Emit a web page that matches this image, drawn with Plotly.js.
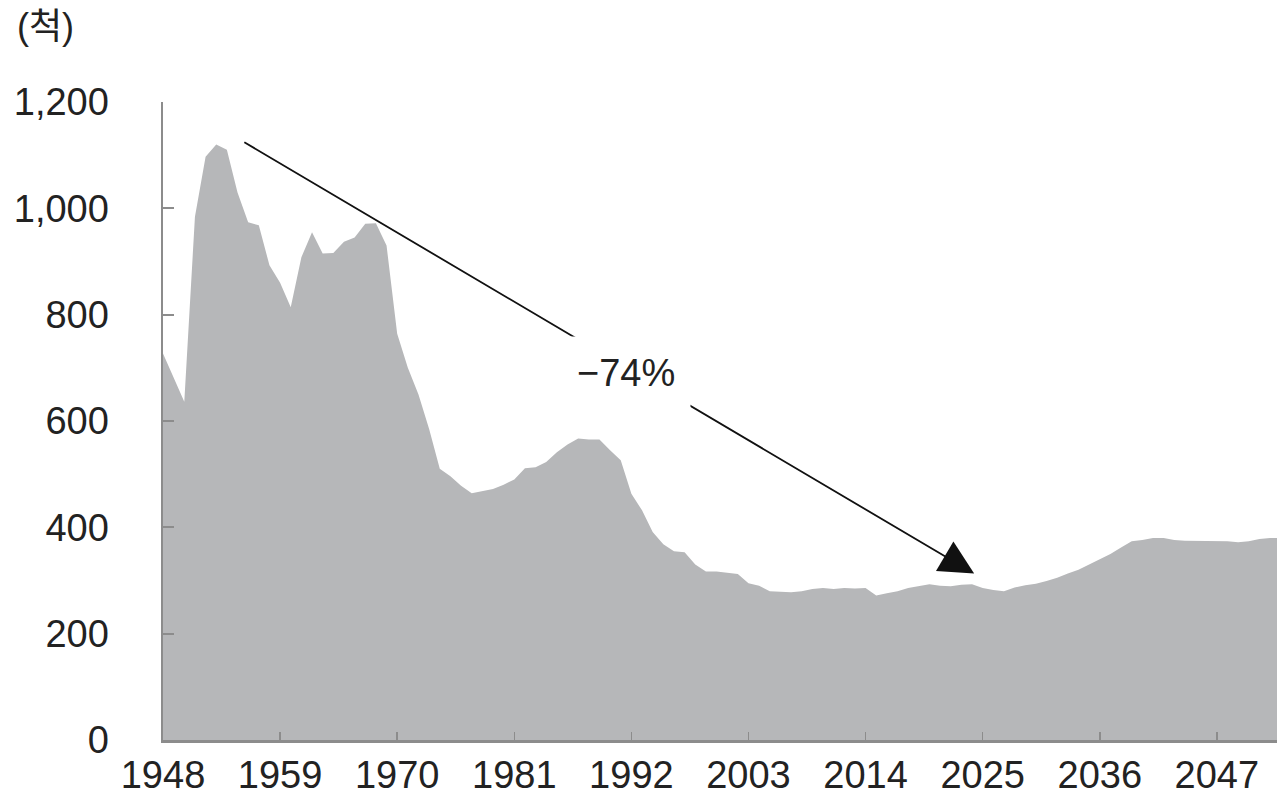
<!DOCTYPE html>
<html>
<head>
<meta charset="utf-8">
<script src="https://cdn.plot.ly/plotly-3.0.1.min.js"></script>
<style>html,body{margin:0;padding:0;background:#fff;}#chart{width:1277px;height:795px;}</style>
</head>
<body>
<div id="chart"></div>
<script>
const years = [];
for (let y = 1948; y <= 2053; y++) years.push(y);
const ships = [
  727, 682, 636, 984, 1097, 1120, 1110, 1030, 974, 968,
  893, 860, 814, 908, 955, 915, 916, 937, 945, 971,
  972, 930, 764, 700, 650, 585, 510, 496, 478, 464,
  468, 472, 480, 490, 511, 513, 523, 541, 556, 567,
  565, 565, 545, 526, 463, 432, 391, 368, 355, 353,
  330, 317, 317, 314, 312, 295, 290, 280, 279, 278,
  280, 284, 286, 284, 286, 285, 286, 272, 276, 280,
  286, 290, 293, 290, 289, 292, 293, 286, 282, 280,
  287, 291, 294, 299, 305, 313, 320, 330, 340, 350,
  362, 374, 376, 380, 380, 376, 375, 375, 374, 374,
  374, 372, 374, 378, 380, 380
];
const xTickVals = [1948, 1959, 1970, 1981, 1992, 2003, 2014, 2025, 2036, 2047];
const xTickText = ['1948', '1959', '1970', '1981', '1992', '2003', '2014', '2025', '2036', '2047'];
const yTickVals = [0, 200, 400, 600, 800, 1000, 1200];
const yTickText = ['0', '200', '400', '600', '800', '1,000', '1,200'];
const unitLabel = '(척)';
const changeLabel = '−74%';
const arrowFrom = {year: 1955.5, value: 1126};
const arrowTo = {year: 2024.2, value: 313};
const labelPos = {year: 1991.5, value: 691};

const FONT = 'Liberation Sans, Arial, Noto Sans CJK KR, sans-serif';

const trace = {
  x: years, y: ships, type: 'scatter', mode: 'lines',
  fill: 'tozeroy', fillcolor: '#b6b7b9',
  line: {width: 0, color: '#b6b7b9'},
  hoverinfo: 'skip'
};

const layout = {
  width: 1277, height: 795,
  margin: {l: 163, r: 0, t: 102, b: 55},
  paper_bgcolor: '#fff', plot_bgcolor: '#fff',
  showlegend: false,
  font: {family: FONT, size: 38, color: '#222'},
  xaxis: {
    range: [1948, 2052.65], showgrid: false, zeroline: false,
    showline: true, linecolor: '#8c8c8c', linewidth: 2.5,
    ticks: 'inside', ticklen: 8, tickwidth: 1.5, tickcolor: '#8c8c8c',
    tickvals: xTickVals, ticktext: xTickText,
    ticklabelstandoff: 0,
    tickfont: {family: FONT, size: 38, color: '#222'}
  },
  yaxis: {
    range: [0, 1200], showgrid: false, zeroline: false,
    showline: true, linecolor: '#8c8c8c', linewidth: 2.5,
    ticks: 'inside', ticklen: 11, tickwidth: 2, tickcolor: '#8c8c8c',
    tickvals: yTickVals, ticktext: yTickText,
    ticklabelstandoff: 44,
    tickfont: {family: FONT, size: 38, color: '#222'}
  },
  annotations: [
    {
      x: arrowTo.year, y: arrowTo.value, xref: 'x', yref: 'y',
      ax: arrowFrom.year, ay: arrowFrom.value, axref: 'x', ayref: 'y',
      text: '', showarrow: true, arrowhead: 2, arrowsize: 3.8, arrowwidth: 1.8,
      arrowcolor: '#111'
    },
    {
      x: labelPos.year, y: labelPos.value, xref: 'x', yref: 'y',
      text: changeLabel, showarrow: false, bgcolor: '#fff', borderpad: 15,
      font: {family: FONT, size: 38, color: '#222'}
    },
    {
      x: -0.1329, y: 1.119, xref: 'paper', yref: 'paper',
      xanchor: 'left', yanchor: 'middle', text: unitLabel, showarrow: false,
      font: {family: FONT, size: 36, color: '#222'}
    }
  ]
};

Plotly.newPlot('chart', [trace], layout, {displayModeBar: false, staticPlot: true});
</script>
</body>
</html>
